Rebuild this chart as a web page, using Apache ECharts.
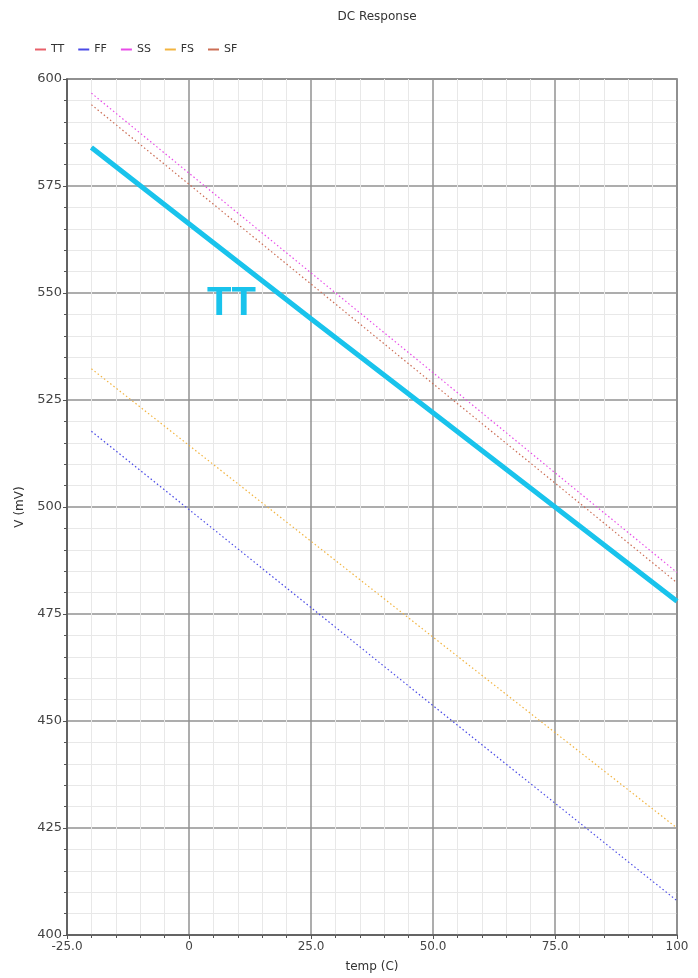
<!DOCTYPE html>
<html>
<head>
<meta charset="utf-8">
<script src="https://cdn.jsdelivr.net/npm/echarts@6/dist/echarts.min.js"></script>
<style>
  html, body { margin: 0; padding: 0; background: #fff; }
  #chart { width: 698px; height: 978px; }
</style>
</head>
<body>
<div id="chart"></div>
<script>
// temperature sweep points (C)
var temps = [-20, 0, 25, 50, 75, 100];
// corner voltages (mV)
var ttValues = [584.0, 566.2, 544.0, 522.0, 500.0, 478.0];
var ffValues = [517.7, 499.4, 476.5, 453.6, 430.8, 408.0];
var ssValues = [596.7, 578.0, 554.7, 531.4, 508.0, 484.7];
var fsValues = [532.3, 514.4, 492.0, 469.6, 447.3, 425.0];
var sfValues = [594.0, 575.4, 552.1, 528.8, 505.6, 482.3];

var xTickLabels = ['-25.0', '0', '25.0', '50.0', '75.0', '100'];
var cornerNames = ['TT', 'FF', 'SS', 'FS', 'SF'];

var chart = echarts.init(document.getElementById('chart'));

function pairs(vals) {
    return temps.map(function (t, i) { return [t, vals[i]]; });
}

// 细点线
function dotted(name, vals, color) {
    return {
        name: name,
        type: 'line',
        data: pairs(vals),
        symbol: 'none',
        silent: true,
        lineStyle: { color: color, width: 1.2, type: [1.5, 2.5] },
        itemStyle: { color: color }
    };
}

var fontFam = 'DejaVu Sans';

chart.setOption({
    animation: false,
    title: [
        {
            text: 'DC Response',
            left: 372,
            textAlign: 'center',
            top: 6,
            textStyle: { fontSize: 12, fontWeight: 'normal', color: '#333', fontFamily: fontFam }
        },
        // 图上的 TT 标注
        {
            text: 'TT',
            left: 202,
            top: 279,
            zlevel: 1,
            textStyle: {
                fontSize: 40,
                fontWeight: 'bold',
                color: '#19c3ec',
                fontFamily: 'Liberation Sans'
            }
        }
    ],
    legend: {
        data: cornerNames,
        left: 30,
        top: 39,
        icon: 'rect',
        itemWidth: 11,
        itemHeight: 2,
        itemGap: 14,
        textStyle: { fontSize: 11, color: '#333', fontFamily: fontFam }
    },
    grid: {
        left: 67,
        right: 21,
        top: 79,
        bottom: 39,
        show: true,
        borderColor: '#666',
        borderWidth: 1.5
    },
    xAxis: {
        type: 'value',
        min: -25,
        max: 100,
        interval: 25,
        name: 'temp (C)',
        nameLocation: 'middle',
        nameGap: 26,
        nameTextStyle: { fontSize: 12, color: '#333', fontFamily: fontFam },
        axisLine: { show: true, onZero: false, lineStyle: { color: '#555', width: 1.5 } },
        axisTick: { show: true, length: 4, lineStyle: { color: '#555' } },
        minorTick: { show: true, splitNumber: 5, length: 3, lineStyle: { color: '#555' } },
        axisLabel: {
            fontSize: 12,
            color: '#444',
            fontFamily: fontFam,
            margin: 6,
            formatter: function (v) {
                var idx = Math.round((v + 25) / 25);
                return xTickLabels[idx];
            }
        },
        splitLine: { show: true, lineStyle: { color: '#929292', width: 1.5 } },
        minorSplitLine: { show: true, lineStyle: { color: '#e8e8e8', width: 1 } }
    },
    yAxis: {
        type: 'value',
        min: 400,
        max: 600,
        interval: 25,
        name: 'V (mV)',
        nameLocation: 'middle',
        nameGap: 40,
        nameTextStyle: { fontSize: 12, color: '#333', fontFamily: fontFam },
        axisLine: { show: true, onZero: false, lineStyle: { color: '#555', width: 1.5 } },
        axisTick: { show: true, length: 4, lineStyle: { color: '#555' } },
        minorTick: { show: true, splitNumber: 5, length: 3, lineStyle: { color: '#555' } },
        axisLabel: { fontSize: 13, color: '#444', fontFamily: fontFam, margin: 5 },
        splitLine: { show: true, lineStyle: { color: '#929292', width: 1.5 } },
        minorSplitLine: { show: true, lineStyle: { color: '#e8e8e8', width: 1 } }
    },
    series: [
        dotted('TT', ttValues, '#e8606a'),
        dotted('FF', ffValues, '#4a4ae6'),
        dotted('SS', ssValues, '#e84ce8'),
        dotted('FS', fsValues, '#f2b440'),
        dotted('SF', sfValues, '#cc6e55'),
        // 高亮的 TT 粗线
        {
            name: 'TT-highlight',
            type: 'line',
            data: pairs(ttValues),
            symbol: 'none',
            silent: true,
            z: 5,
            lineStyle: { color: '#19c3ec', width: 5 }
        }
    ]
});

window.addEventListener('resize', function () {
    chart.resize();
});
</script>
</body>
</html>
